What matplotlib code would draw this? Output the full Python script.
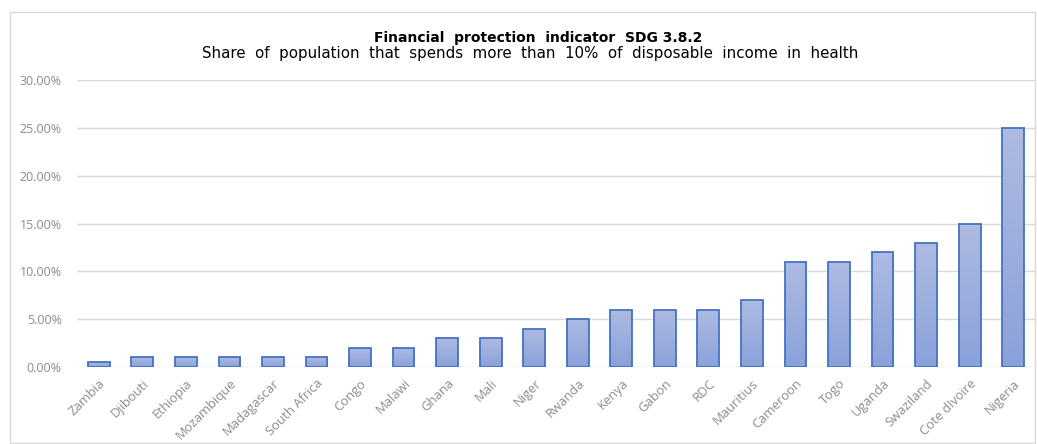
import numpy as np
import matplotlib.pyplot as plt
from matplotlib.colors import LinearSegmentedColormap
from matplotlib.patches import Rectangle
from matplotlib.ticker import FuncFormatter

countries = ["Zambia", "Djibouti", "Ethiopia", "Mozambique", "Madagascar", "South Africa",
             "Congo", "Malawi", "Ghana", "Mali", "Niger", "Rwanda", "Kenya", "Gabon", "RDC",
             "Mauritius", "Cameroon", "Togo", "Uganda", "Swaziland", "Cote dIvoire", "Nigeria"]
share = [0.005, 0.01, 0.01, 0.01, 0.01, 0.01, 0.02, 0.02, 0.03, 0.03, 0.04, 0.05, 0.06, 0.06,
         0.06, 0.07, 0.11, 0.11, 0.12, 0.13, 0.15, 0.25]
yticks = [0.0, 0.05, 0.10, 0.15, 0.20, 0.25, 0.30]

plt.rcParams['font.family'] = ['Open Sans', 'DejaVu Sans']

fig = plt.figure(figsize=(10.37, 4.44), dpi=100)
ax = fig.add_axes([0.0743, 0.1734, 0.9237, 0.6464])

# light frame round the whole chart
fig.patches.append(Rectangle((10 / 1037, 0.003), 1 - 12 / 1037, 1 - 12 / 444 - 0.003,
                             transform=fig.transFigure, fill=False,
                             edgecolor='#d9d9d9', linewidth=1))

x = np.arange(len(countries))
bars = ax.bar(x, share, width=0.5, color='none', edgecolor='#4472c4', linewidth=1.3, zorder=3)

# vertical gradient inside each bar
cmap = LinearSegmentedColormap.from_list('bar', ['#8aa1d9', '#aebbe2'])
grad = np.linspace(0, 1, 256).reshape(-1, 1)
for b in bars:
    x0, w, h = b.get_x(), b.get_width(), b.get_height()
    im = ax.imshow(grad, cmap=cmap, origin='lower', aspect='auto',
                   extent=(x0, x0 + w, 0, h), zorder=2)
    im.set_clip_path(b)

ax.set_xlim(-0.5, len(countries) - 0.5)
ax.set_ylim(0, 0.30)
ax.set_yticks(yticks)
ax.yaxis.set_major_formatter(FuncFormatter(lambda v, p: f"{v * 100:.2f}%"))
ax.grid(axis='y', color='#d9d9d9', linewidth=1, zorder=0)
for s in ax.spines.values():
    s.set_visible(False)
ax.tick_params(axis='both', length=0, colors='#8c8c8c', labelsize=9)
ax.tick_params(axis='y', pad=11)
ax.set_xticks(x)
ax.set_xticklabels(countries, rotation=45, ha='right', rotation_mode='anchor')
ax.tick_params(axis='x', pad=7, labelsize=9.4)

fig.text(0.519, 0.915, "Financial  protection  indicator  SDG 3.8.2", ha='center', va='center',
         fontsize=10, fontweight='bold', color='#000000', family='DejaVu Sans')
fig.text(0.5116, 0.88, "Share  of  population  that  spends  more  than  10%  of  disposable  income  in  health",
         ha='center', va='center', fontsize=10.8, color='#000000', family='DejaVu Sans')

fig.savefig('out.png', dpi=100)
